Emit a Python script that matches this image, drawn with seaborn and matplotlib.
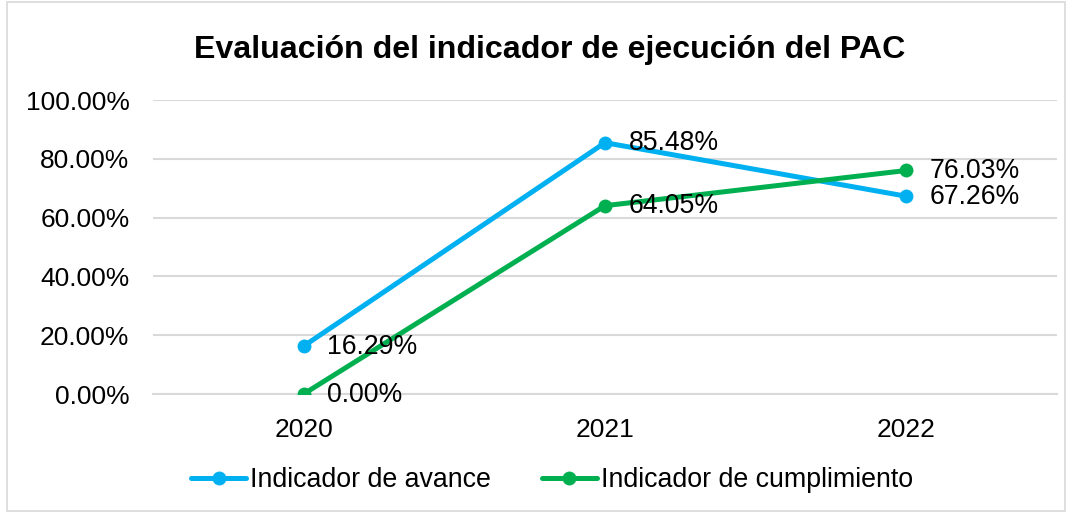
import matplotlib
matplotlib.use("Agg")
import matplotlib.pyplot as plt
import matplotlib.patches as mpatches
import seaborn as sns
import pandas as pd

# datos
anios = ["2020", "2021", "2022"]
avance = [0.1629, 0.8548, 0.6726]
cumplimiento = [0.0, 0.6405, 0.7603]
series = ["Indicador de avance", "Indicador de cumplimiento"]
colores = ["#00B0F0", "#00B050"]

df = pd.DataFrame({
    "anio": anios * 2,
    "valor": avance + cumplimiento,
    "serie": [series[0]] * 3 + [series[1]] * 3,
})

sns.set_style("white")
plt.rcParams["font.family"] = ["Liberation Sans", "DejaVu Sans"]
plt.rcParams["text.color"] = "black"
plt.rcParams["xtick.color"] = "black"
plt.rcParams["ytick.color"] = "black"

fig = plt.figure(figsize=(10.72, 5.13), dpi=100)
ax = fig.add_axes([153 / 1072, 1 - 394 / 513, (1057 - 153) / 1072, (394 - 100) / 513])

sns.lineplot(data=df, x="anio", y="valor", hue="serie", palette=colores,
             marker="o", markersize=10, markeredgewidth=0, linewidth=3.6,
             ax=ax, legend=False, zorder=3)

# etiquetas de datos
for vals in [avance, cumplimiento]:
    for i, v in enumerate(vals):
        ax.annotate(f"{v * 100:.2f}%", (i, v), xytext=(17, -0.5), textcoords="offset points",
                    ha="left", va="center", fontsize=19.2, color="black", zorder=4)

ax.set_xlim(-0.5, 2.5)
ax.set_ylim(0, 1.0)
ax.set_yticks([0, 0.2, 0.4, 0.6, 0.8, 1.0])
ax.set_yticklabels([f"{t * 100:.2f}%" for t in [0, 0.2, 0.4, 0.6, 0.8, 1.0]])
ax.yaxis.grid(True, color="#D9D9D9", linewidth=1.5)
ax.set_axisbelow(True)
ax.tick_params(axis="y", length=0, pad=17, labelsize=19, labelcolor="black")
ax.tick_params(axis="x", length=0, pad=17, labelsize=19, labelcolor="black")
ax.set_xlabel("")
ax.set_ylabel("")
for s in ax.spines.values():
    s.set_visible(False)
ax.spines["bottom"].set_visible(True)
ax.spines["bottom"].set_color("#D9D9D9")
ax.spines["bottom"].set_linewidth(1.5)

fig.text(550 / 1072, 1 - 58 / 513, "Evaluación del indicador de ejecución del PAC",
         ha="center", va="baseline", fontsize=23.1, fontweight="bold", color="black")

handles = [plt.Line2D([], [], color=c, marker="o", markersize=10, markeredgewidth=0, linewidth=3.6)
           for c in colores]
leg = fig.legend(handles, series, loc="center", bbox_to_anchor=(552 / 1072, 1 - 480 / 513),
                 ncol=2, frameon=False, fontsize=19.3, handlelength=2.05, handletextpad=0.15,
                 columnspacing=1.9)
for t in leg.get_texts():
    t.set_color("black")

# marco del grafico
fig.patches.append(mpatches.Rectangle((7 / 1072, 0.003), 1 - 14 / 1072, 0.994,
                                      transform=fig.transFigure, fill=False,
                                      edgecolor="#D9D9D9", linewidth=1.2))

fig.savefig("out.png", dpi=100)
